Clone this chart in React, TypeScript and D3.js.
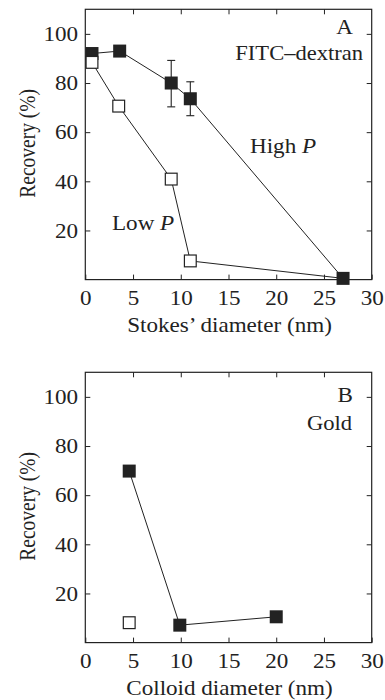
import React, { useEffect, useRef } from 'react'
import * as d3 from 'd3'

// panel A: FITC-dextran, Stokes' diameter (nm) vs recovery (%)
const highPX = [0.7, 3.6, 9, 11, 27]
const highPY = [92, 93, 80, 73.6, 0.5]
const highPErrLo = [null, null, 70.3, 66.7, null]
const highPErrHi = [null, null, 89.2, 80.5, null]
const lowPX = [0.7, 3.5, 9, 11, 27]
const lowPY = [88.4, 70.6, 40.9, 7.6, 0.5]
const lowPShow = [true, true, true, true, false]

// panel B: gold colloids
const goldHighX = [4.6, 9.9, 20]
const goldHighY = [69.8, 7.1, 10.5]
const goldLowX = [4.6]
const goldLowY = [8.1]

const xTicks = [0, 5, 10, 15, 20, 25, 30]
const yTicks = [20, 40, 60, 80, 100]

const ink = '#222'
const font = "'Liberation Serif', 'Times New Roman', serif"
const fs = 21
const sx = 1.1 // the original type is a little wider than Times

type Pt = { x: number; y: number; lo?: number | null; hi?: number | null; show?: boolean }

function Panel({ top, height, letter, letterY, label, labelX, labelY, xTitle, filled, open, notes }: {
  top: number
  height: number
  letter: string
  letterY: number
  label: string
  labelX: number
  labelY: number
  xTitle: string
  filled: Pt[]
  open: Pt[]
  notes: { text: string; italic?: string; x: number; y: number }[]
}) {
  const ref = useRef<SVGGElement>(null)
  const left = 85.3
  const width = 286.4

  useEffect(() => {
    const g = d3.select(ref.current)
    g.selectAll('*').remove()

    const x = d3.scaleLinear().domain([0, 30]).range([0, width])
    const y = d3.scaleLinear().domain([0, 110]).range([height, 0])

    const style = (s: any) => {
      s.select('.domain').remove()
      s.selectAll('line').attr('stroke', ink).attr('stroke-width', 1)
      s.selectAll('text')
        .attr('font-family', font).attr('font-size', fs).attr('fill', ink)
        .attr('transform', `scale(${sx},1)`)
    }

    g.append('g').attr('transform', `translate(0,${height})`)
      .call(d3.axisBottom(x).tickValues(xTicks).tickSize(-5).tickPadding(10.6))
      .call(style)
    g.append('g')
      .call(d3.axisTop(x).tickValues(xTicks.slice(1, -1)).tickSize(-5).tickFormat(() => ''))
      .call(style)
    g.append('g')
      .call(d3.axisLeft(y).tickValues(yTicks).tickSize(-5).tickPadding(6.6))
      .call(style)
    g.append('g').attr('transform', `translate(${width},0)`)
      .call(d3.axisRight(y).tickValues(yTicks).tickSize(-5).tickFormat(() => ''))
      .call(style)

    g.append('rect')
      .attr('width', width).attr('height', height)
      .attr('fill', 'none').attr('stroke', ink).attr('stroke-width', 1.2)

    const line = d3.line<Pt>().x(d => x(d.x)).y(d => y(d.y))
    if (open.length > 1) {
      g.append('path').attr('d', line(open)).attr('fill', 'none').attr('stroke', ink).attr('stroke-width', 1)
    }
    if (filled.length > 1) {
      g.append('path').attr('d', line(filled)).attr('fill', 'none').attr('stroke', ink).attr('stroke-width', 1)
    }

    // error bars
    const errs = filled.filter(d => d.lo != null && d.hi != null)
    const eb = g.append('g').attr('stroke', ink).attr('stroke-width', 1.1)
    errs.forEach(d => {
      eb.append('line').attr('x1', x(d.x)).attr('x2', x(d.x)).attr('y1', y(d.lo!)).attr('y2', y(d.hi!))
      ;[d.lo!, d.hi!].forEach(v => {
        eb.append('line').attr('x1', x(d.x) - 4).attr('x2', x(d.x) + 4).attr('y1', y(v)).attr('y2', y(v))
      })
    })

    const s = 13
    g.append('g').selectAll('rect').data(filled).enter().append('rect')
      .attr('x', d => x(d.x) - s / 2).attr('y', d => y(d.y) - s / 2)
      .attr('width', s).attr('height', s).attr('fill', ink)
    g.append('g').selectAll('rect').data(open.filter(d => d.show !== false)).enter().append('rect')
      .attr('x', d => x(d.x) - s / 2 + 0.6).attr('y', d => y(d.y) - s / 2 + 0.6)
      .attr('width', s - 1.2).attr('height', s - 1.2)
      .attr('fill', '#fff').attr('stroke', ink).attr('stroke-width', 1.2)
  }, [])

  const wide = (x: number, y: number) => `translate(${x},${y}) scale(${sx},1)`

  return (
    <g transform={`translate(0,${top})`} fontFamily={font} fill={ink} fontSize={fs}>
      <g ref={ref} transform={`translate(${left},0)`} />
      <text transform={wide(left + width / 2 + 1, height + 52.5)} textAnchor="middle">{xTitle}</text>
      <text transform={`translate(35,${134}) rotate(-90) scale(1,1.15)`} textAnchor="middle" fontSize={19.5}>
        Recovery (%)
      </text>
      <text transform={wide(353, letterY)} textAnchor="end">{letter}</text>
      <text transform={wide(labelX, labelY)} textAnchor="end" fontSize={20.5}>{label}</text>
      {notes.map(n => (
        <text key={n.text} transform={wide(n.x, n.y)}>
          {n.text}
          {n.italic && <tspan fontStyle="italic">{n.italic}</tspan>}
        </text>
      ))}
    </g>
  )
}

export default function App() {
  const filledA = highPX.map((x, i) => ({ x, y: highPY[i], lo: highPErrLo[i], hi: highPErrHi[i] }))
  const openA = lowPX.map((x, i) => ({ x, y: lowPY[i], show: lowPShow[i] }))
  const filledB = goldHighX.map((x, i) => ({ x, y: goldHighY[i] }))
  const openB = goldLowX.map((x, i) => ({ x, y: goldLowY[i] }))

  return (
    <svg width={385} height={700} style={{ position: 'absolute', left: 0, top: 0, background: '#fff' }}>
      <Panel
        top={9.3}
        height={270.3}
        letter="A"
        letterY={25}
        label="FITC–dextran"
        labelX={363}
        labelY={50.7}
        xTitle="Stokes’ diameter (nm)"
        filled={filledA}
        open={openA}
        notes={[
          { text: 'High ', italic: 'P', x: 250, y: 144 },
          { text: 'Low ', italic: 'P', x: 112, y: 220.7 },
        ]}
      />
      <Panel
        top={372.3}
        height={270.3}
        letter="B"
        letterY={29.4}
        label="Gold"
        labelX={352}
        labelY={57.7}
        xTitle="Colloid diameter (nm)"
        filled={filledB}
        open={openB}
        notes={[]}
      />
    </svg>
  )
}
